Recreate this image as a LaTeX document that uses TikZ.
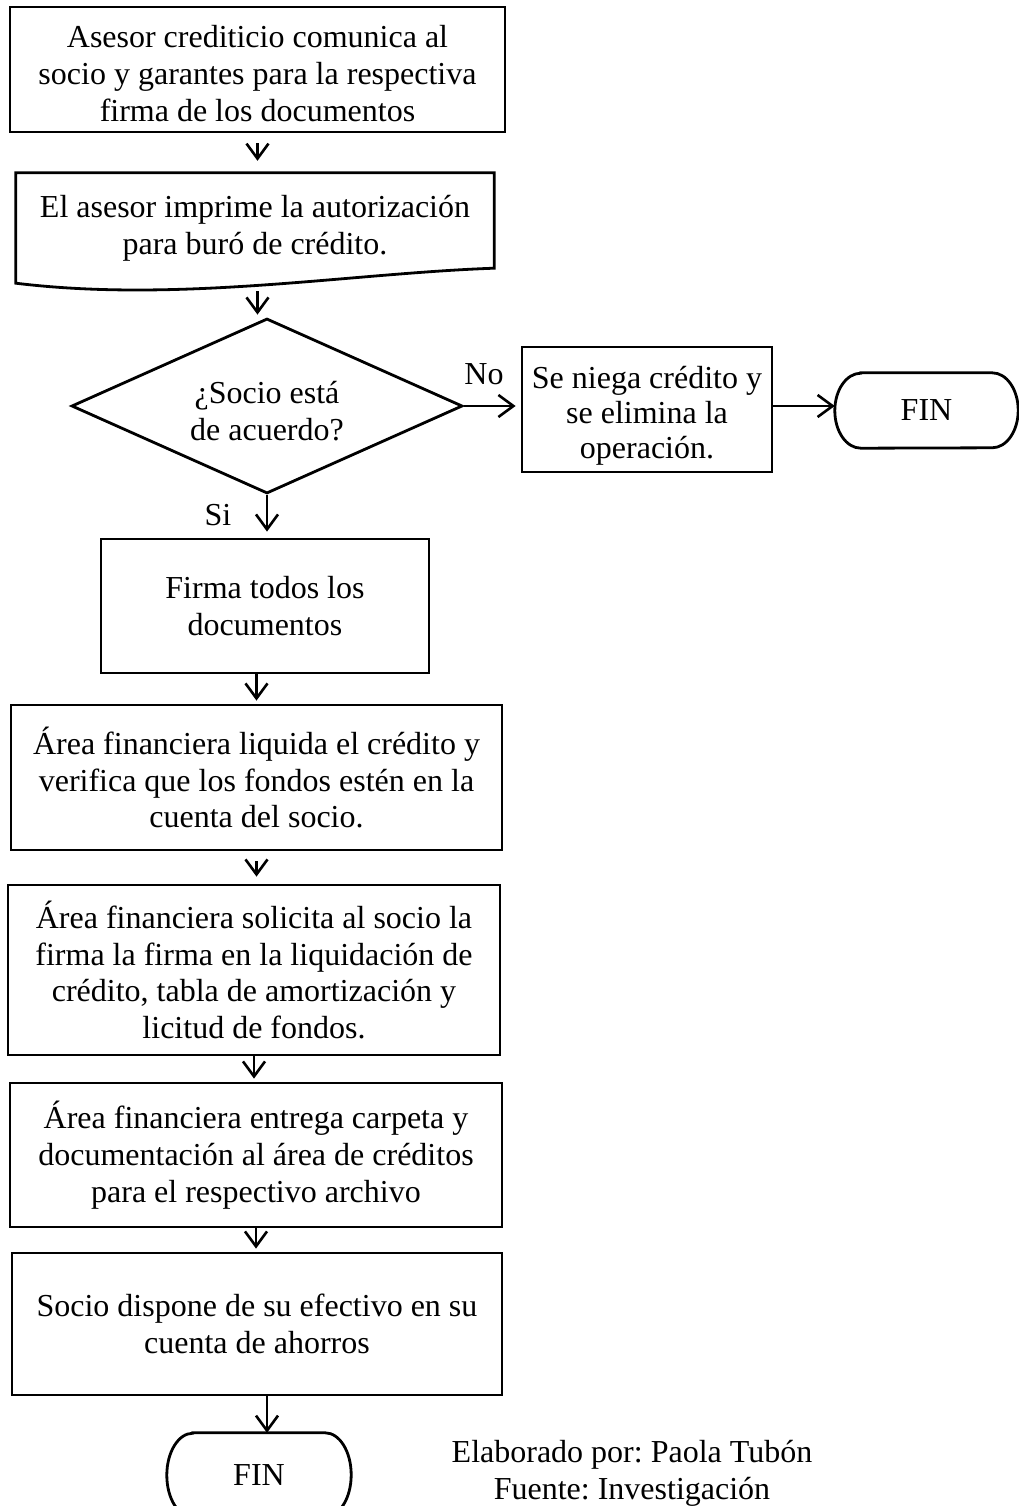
\documentclass[tikz,border=0pt]{standalone}
\usepackage{fontspec}
\setmainfont{Liberation Serif}
\usetikzlibrary{arrows.meta,shapes.geometric,calc}
\frenchspacing
% invisible strut that pads the first text line from above
\newcommand\toppad[1]{\rule{0pt}{#1}}

\begin{document}
\begin{tikzpicture}[x=1pt,y=-1pt,
  every node/.style={font=\fontsize{32}{36.8}\selectfont, align=center, inner sep=0pt},
  procbox/.style={draw, line width=2.8pt, rectangle},
  decbox/.style={draw, line width=2.8pt, diamond, aspect=2.2},
  outline/.style={line width=2.8pt},
  flowarrow/.style={line width=2.6pt, -{Straight Barb[length=15pt,width=22pt]}},
]
\useasboundingbox (0,0) rectangle (1019,1506);
\clip (0,0) rectangle (1019,1506);

% process steps
\node[procbox, minimum width=495pt, minimum height=125pt] (b1) at (257.5,69.5)
  {\toppad{30pt}Asesor crediticio comunica al\\socio y garantes para la respectiva\\firma de los documentos};

\node[minimum width=478pt, minimum height=110pt] (doc) at (255,228)
  {El asesor imprime la autorización\\para buró de crédito.};
\draw[outline] (doc.south west) -- (doc.north west) -- (doc.north east)
  -- ([yshift=15pt]doc.south east)
  .. controls ([shift={(-144pt,10pt)}]doc.south east) and ([shift={(164pt,-20pt)}]doc.south west)
  .. (doc.south west) -- cycle;

\node[decbox, minimum width=391pt, minimum height=175pt] (dia) at (267,406)
  {\toppad{32pt}¿Socio está\\de acuerdo?};

\node[procbox, minimum width=250pt, minimum height=125pt,
      font=\fontsize{32}{35}\selectfont] (niega) at (647,409.5)
  {\toppad{35pt}Se niega crédito y\\se elimina la\\operación.};

\node[minimum width=183pt, minimum height=75pt] (finR) at (926.5,410.5) {FIN};
\draw[outline] ([xshift=26pt]finR.north west) -- ([xshift=-26pt]finR.north east)
  arc[start angle=90, end angle=-90, x radius=26pt, y radius=37.5pt]
  -- ([xshift=26pt]finR.south west)
  arc[start angle=270, end angle=90, x radius=26pt, y radius=37.5pt] -- cycle;

\node[procbox, minimum width=328pt, minimum height=134pt] (firma) at (265,606)
  {Firma todos los\\documentos};

\node[procbox, minimum width=491pt, minimum height=145pt] (liq) at (256.5,777.5)
  {Área financiera liquida el crédito y\\verifica que los fondos estén en la\\cuenta del socio.};

\node[procbox, minimum width=492pt, minimum height=170pt] (sol) at (254,970)
  {Área financiera solicita al socio la\\firma la firma en la liquidación de\\crédito, tabla de amortización y\\licitud de fondos.};

\node[procbox, minimum width=492pt, minimum height=144pt] (ent) at (256,1155)
  {Área financiera entrega carpeta y\\documentación al área de créditos\\para el respectivo archivo};

\node[procbox, minimum width=490pt, minimum height=142pt] (soc) at (257,1324)
  {Socio dispone de su efectivo en su\\cuenta de ahorros};

\node[minimum width=184pt, minimum height=84pt] (finB) at (259,1475) {FIN};
\draw[outline] ([xshift=26pt]finB.north west) -- ([xshift=-26pt]finB.north east)
  arc[start angle=90, end angle=-90, x radius=26pt, y radius=42pt]
  -- ([xshift=26pt]finB.south west)
  arc[start angle=270, end angle=90, x radius=26pt, y radius=42pt] -- cycle;

% branch labels
\node (no) at (484,374) {No};
\node (si) at (218,515) {Si};

% credits
\node (credit) at (632,1473) {Elaborado por: Paola Tubón\\Fuente: Investigación};

% connectors
\draw[flowarrow, shorten <=10pt, shorten >=12pt] (b1.south) -- (b1.south |- doc.north);
\draw[flowarrow, shorten <=8pt, shorten >=2.5pt] (b1.south |- doc.south) -- (b1.south |- dia.north);
\draw[flowarrow, shorten >=6pt] (dia.south) -- (dia.south |- firma.north);
\draw[flowarrow, shorten >=3pt] (liq.north |- firma.south) -- (liq.north);
\draw[flowarrow, shorten <=10pt, shorten >=7pt] (liq.south) -- (liq.south |- sol.north);
\draw[flowarrow, shorten >=3pt] (sol.south) -- (sol.south |- ent.north);
\draw[flowarrow, shorten >=3pt] (ent.south) -- (ent.south |- soc.north);
\draw[flowarrow] ([xshift=8pt]finB.north |- soc.south) -- ([xshift=8pt]finB.north);
\draw[flowarrow, shorten >=5pt] (dia.east) -- (dia.east -| niega.west);
\draw[flowarrow] (niega.east |- dia.east) -- (finR.west |- dia.east);
\end{tikzpicture}
\end{document}
